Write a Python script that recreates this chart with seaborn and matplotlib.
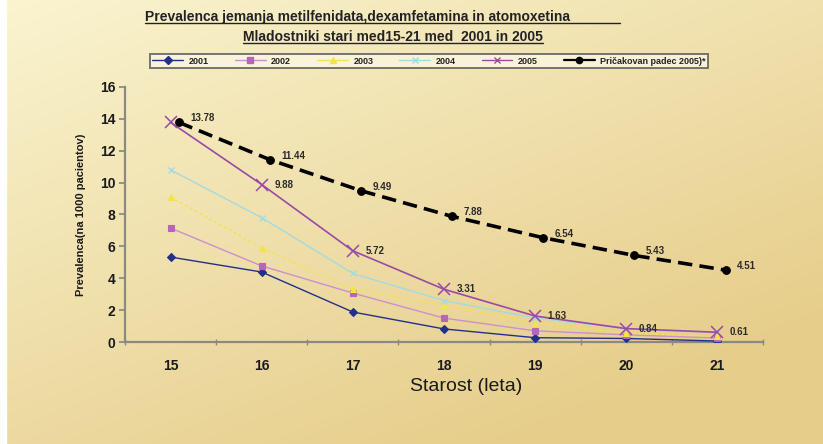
import numpy as np
import pandas as pd
import matplotlib
matplotlib.use("Agg")
import matplotlib.pyplot as plt
from matplotlib.lines import Line2D
import seaborn as sns

# ---- data -------------------------------------------------------------
ages = [15, 16, 17, 18, 19, 20, 21]
y2001 = [5.33, 4.39, 1.88, 0.82, 0.27, 0.22, 0.06]
y2002 = [7.15, 4.77, 3.07, 1.50, 0.70, 0.45, 0.25]
y2003 = [9.10, 5.90, 3.30, 2.30, 1.20, 0.55, 0.35]
y2004 = [10.80, 7.80, 4.30, 2.60, 1.50, 0.85, 0.60]
y2005 = [13.78, 9.88, 5.72, 3.31, 1.63, 0.84, 0.61]
expected = [13.78, 11.44, 9.49, 7.88, 6.54, 5.43, 4.51]

series_names = ["2001", "2002", "2003", "2004", "2005", "Pričakovan padec 2005)*"]
series_values = [y2001, y2002, y2003, y2004, y2005, expected]

title_lines = ["Prevalenca jemanja metilfenidata,dexamfetamina in atomoxetina",
               "Mladostniki stari med15-21 med  2001 in 2005"]
xlabel = "Starost (leta)"
ylabel = "Prevalenca(na 1000 pacientov)"

df = pd.DataFrame(
    [(name, a, v) for name, vals in zip(series_names, series_values) for a, v in zip(ages, vals)],
    columns=["serija", "starost", "vrednost"],
)

# ---- styling ----------------------------------------------------------
sns.set_theme(style="white")
plt.rcParams["font.family"] = ["Liberation Sans", "DejaVu Sans"]

styles = {
    "2001": dict(color="#22308a", marker="D", ms=4.5, lw=1.0, ls="-", mec="#22308a", mfc="#22308a", mew=0.8),
    "2002": dict(color="#cc8fcf", marker="s", ms=5, lw=1.0, ls="-", mec="#b466bb", mfc="#b466bb", mew=0.8),
    "2003": dict(color="#f2e44a", marker="^", ms=4.5, lw=1.0, ls=(0, (2, 2)), mec="#f2e44a", mfc="#f2e44a", mew=0.8),
    "2004": dict(color="#a3dbe0", marker="x", ms=4, lw=1.0, ls="-", mec="#a3dbe0", mfc="#a3dbe0", mew=1.0),
    "2005": dict(color="#9a4aa6", marker="x", ms=8, lw=1.2, ls="-", mec="#9a4aa6", mfc="#9a4aa6", mew=1.1),
    "Pričakovan padec 2005)*": dict(color="black", marker="o", ms=5.5, lw=2.6, ls=(0, (4, 2)),
                                    mec="black", mfc="black", mew=0.8),
}
expected_shift = 0.09

W, H = 823, 444
fig = plt.figure(figsize=(W / 100, H / 100), dpi=100)

# warm paper background: soft diagonal gradient
bg = fig.add_axes([0, 0, 1, 1], zorder=-10)
gx, gy = np.meshgrid(np.linspace(0, 1, 400), np.linspace(0, 1, 220))
t = np.clip(0.55 * gx + 0.75 * gy, 0, 1.1) / 1.1
c0 = np.array([250, 244, 208]) / 255
c1 = np.array([230, 205, 138]) / 255
img = c0[None, None, :] * (1 - t[..., None]) + c1[None, None, :] * t[..., None]
bg.imshow(img, aspect="auto", extent=[0, 1, 0, 1], origin="upper")
bg.add_patch(plt.Rectangle((0, 0), 6 / W, 1, color="white", transform=bg.transAxes))
bg.set_axis_off()

ax = fig.add_axes([125 / W, (H - 342) / H, (763 - 125) / W, (342 - 87) / H])
ax.patch.set_alpha(0)

for name in series_names:
    st = styles[name]
    sub = df[df["serija"] == name].copy()
    if name.startswith("Pri"):
        sub["starost"] = sub["starost"] + expected_shift
    sns.lineplot(data=sub, x="starost", y="vrednost", ax=ax, color=st["color"],
                 marker=st["marker"], markersize=st["ms"], linewidth=st["lw"],
                 linestyle=st["ls"], markeredgecolor=st["mec"], markerfacecolor=st["mfc"],
                 markeredgewidth=st["mew"],
                 label=name, legend=False, zorder=5 if name.startswith("Pri") else 3)

# value labels on 2005 and the expected decline
for a, v in zip(ages[1:], y2005[1:]):
    ax.annotate(f"{v:.2f}", (a, v), xytext=(9, 0), textcoords="offset points",
                fontsize=7, fontweight="bold", color="#2a2a2a", va="center", ha="left")
for a, v in zip(ages, expected):
    ax.annotate(f"{v:.2f}", (a + expected_shift, v), xytext=(8, 3), textcoords="offset points",
                fontsize=7, fontweight="bold", color="#2a2a2a", va="center", ha="left")

ax.set_xlim(14.5, 21.5)
ax.set_ylim(0, 16)
ax.set_yticks(range(0, 17, 2))
ax.set_xticks(ages)
ax.set_xticks(np.arange(14.5, 21.6, 1), minor=True)
ax.tick_params(axis="x", which="major", length=0, pad=12, labelsize=10)
ax.tick_params(axis="x", which="minor", length=4, direction="inout", color="#888888", bottom=True)
ax.tick_params(axis="y", length=4, direction="out", color="#888888", left=True, labelsize=10, pad=3)
for lab in ax.get_xticklabels() + ax.get_yticklabels():
    lab.set_fontweight("bold")
    lab.set_color("#1a1a1a")

for s in ["top", "right"]:
    ax.spines[s].set_visible(False)
for s in ["left", "bottom"]:
    ax.spines[s].set_color("#8a8a80")
    ax.spines[s].set_linewidth(1.6)

ax.set_xlabel(xlabel, fontsize=14, color="#1a1a1a")
ax.xaxis.set_label_coords(0.535, -0.14)
ax.set_ylabel(ylabel, fontsize=8, fontweight="bold", color="#1a1a1a", labelpad=10)

# legend in a framed strip under the title
handles = [Line2D([], [], color=styles[n]["color"], marker=styles[n]["marker"],
                  markersize=4 if not n.startswith("Pri") else 4.5,
                  lw=1.0 if not n.startswith("Pri") else 1.6,
                  markeredgecolor=styles[n]["mec"], markerfacecolor=styles[n]["mfc"])
           for n in series_names]
leg = fig.legend(handles, series_names, ncol=6, loc="center",
                 bbox_to_anchor=((150 + 708) / 2 / W, 1 - 61 / H),
                 fontsize=6.5, frameon=True, fancybox=False, borderpad=0.25,
                 handlelength=3.4, columnspacing=2.9, handletextpad=0.6)
leg.get_frame().set_edgecolor("#555555")
leg.get_frame().set_linewidth(1.4)
leg.get_frame().set_facecolor("#fbf6e0")
for txt in leg.get_texts():
    txt.set_fontweight("bold")
    txt.set_color("#222222")

# underlined two-line title
t1 = fig.text(145 / W, 1 - 17 / H, title_lines[0], fontsize=10, fontweight="bold",
              ha="left", va="center", color="#222222")
t2 = fig.text(393 / W, 1 - 37 / H, title_lines[1], fontsize=10, fontweight="bold",
              ha="center", va="center", color="#222222")
fig.canvas.draw()
r = fig.canvas.get_renderer()
for tx, extra in [(t1, 50), (t2, 0)]:
    bb = tx.get_window_extent(r)
    y = (bb.y0 + 0.5) / H
    fig.add_artist(Line2D([bb.x0 / W, (bb.x1 + extra) / W], [y, y], color="#222222", lw=1.0))

fig.savefig("out.png", dpi=100)
